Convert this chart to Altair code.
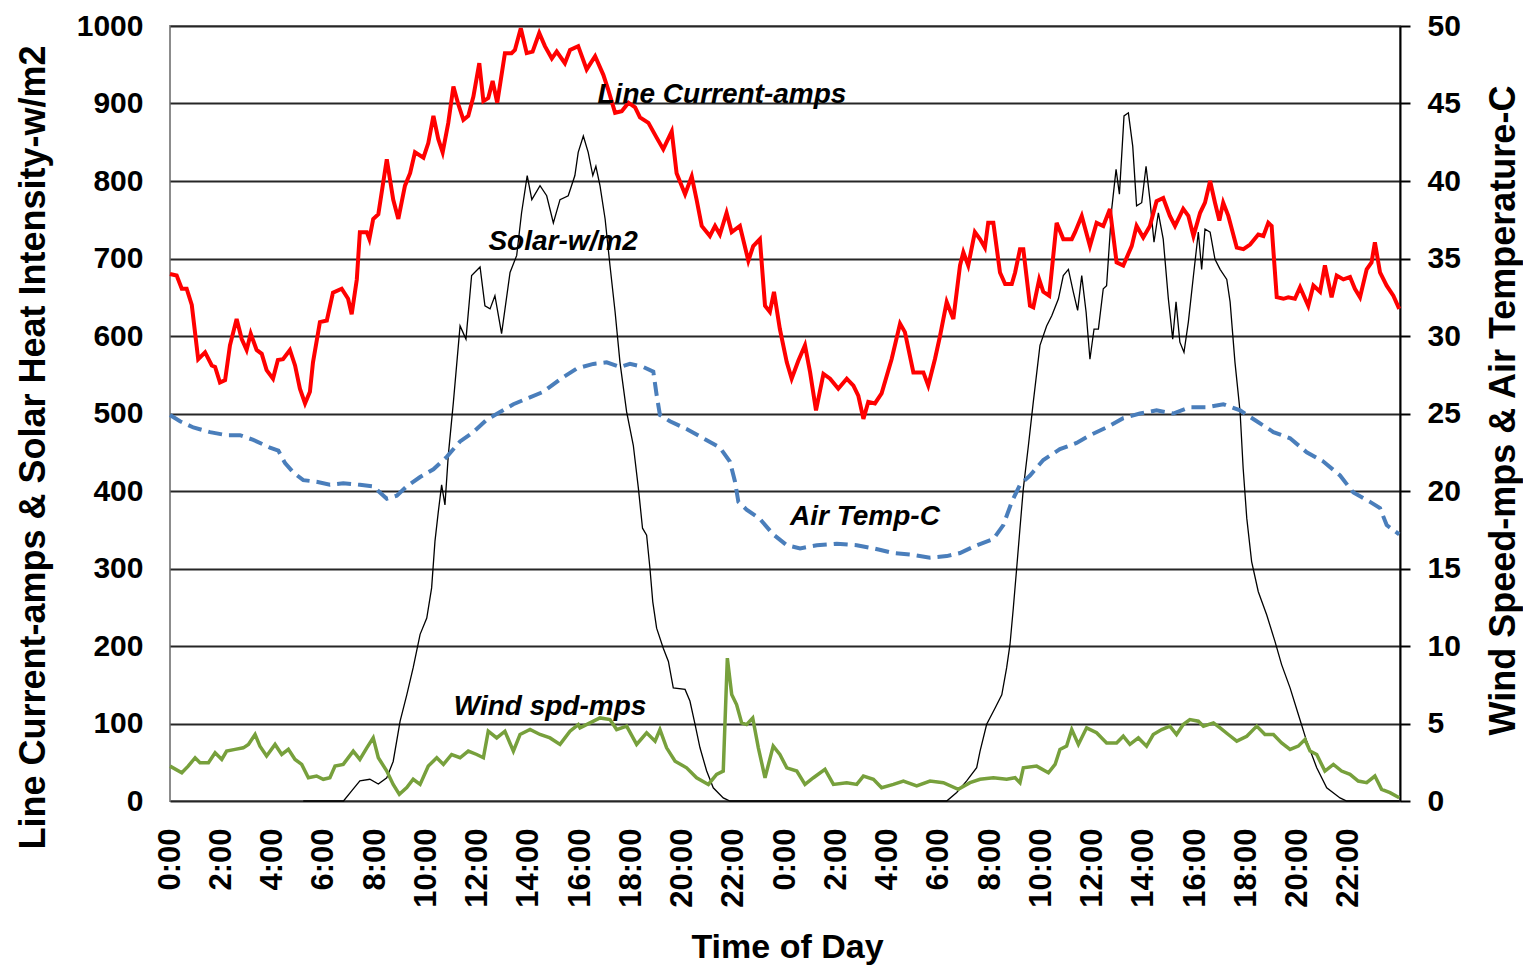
import altair as alt
import pandas as pd

# ---------------- data (hours since start of day 1, value) ----------------
cur_h = [0.0, 0.26, 0.46, 0.65, 0.85, 1.10, 1.37, 1.63, 1.76, 1.95, 2.15, 2.34, 2.60, 2.80, 2.99, 3.15,
         3.38, 3.58, 3.77, 4.02, 4.21, 4.41, 4.68, 4.88, 5.07, 5.27, 5.46, 5.58, 5.85, 6.12, 6.36, 6.70,
         6.95, 7.09, 7.29, 7.41, 7.68, 7.78, 7.93, 8.13, 8.46, 8.71, 8.91, 9.17, 9.37, 9.56, 9.89, 10.08,
         10.28, 10.47, 10.64, 10.86, 11.06, 11.25, 11.45, 11.64, 11.84, 12.07, 12.23, 12.42, 12.59, 12.77,
         13.07, 13.33, 13.46, 13.69, 13.92, 14.15, 14.41, 14.63, 14.90, 15.09, 15.41, 15.61, 15.93, 16.26,
         16.59, 16.91, 17.10, 17.37, 17.63, 17.89, 18.15, 18.34, 18.67, 18.99, 19.25, 19.58, 19.77, 20.10,
         20.36, 20.55, 20.75, 21.07, 21.27, 21.46, 21.72, 21.92, 22.24, 22.57, 22.76, 23.02, 23.22, 23.41,
         23.57, 23.80, 24.07, 24.26, 24.52, 24.78, 24.98, 25.21, 25.50, 25.76, 26.08, 26.41, 26.67, 26.86,
         27.06, 27.25, 27.51, 27.77, 28.16, 28.49, 28.68, 29.01, 29.40, 29.59, 29.85, 30.05, 30.31, 30.57,
         30.83, 30.96, 31.15, 31.41, 31.61, 31.80, 31.93, 32.13, 32.39, 32.59, 32.85, 32.98, 33.17, 33.30,
         33.56, 33.69, 33.92, 34.08, 34.31, 34.60, 34.86, 35.19, 35.32, 35.58, 35.90, 36.16, 36.42, 36.68,
         36.94, 37.20, 37.53, 37.72, 37.98, 38.24, 38.50, 38.76, 39.02, 39.22, 39.54, 39.74, 39.94, 40.20,
         40.39, 40.59, 40.78, 40.95, 41.10, 41.30, 41.63, 41.89, 42.15, 42.47, 42.67, 42.86, 42.99, 43.19,
         43.45, 43.64, 43.90, 44.10, 44.42, 44.62, 44.88, 45.07, 45.33, 45.53, 45.79, 46.05, 46.24, 46.44,
         46.70, 46.89, 47.02, 47.22, 47.48, 47.74, 47.97]
cur_v = [680, 678, 661, 661, 640, 570, 579, 562, 560, 540, 543, 588, 622, 596, 582, 603,
         582, 577, 556, 545, 569, 570, 582, 562, 532, 513, 528, 566, 618, 620, 656, 661,
         648, 628, 673, 734, 734, 725, 751, 757, 828, 776, 751, 794, 810, 837, 830, 849,
         884, 854, 837, 875, 922, 899, 879, 884, 909, 952, 903, 907, 929, 901,
         965, 965, 969, 997, 965, 967, 991, 974, 958, 967, 952, 969, 974, 944,
         961, 937, 918, 888, 890, 901, 895, 882, 875, 856, 841, 864, 810, 783,
         806, 776, 742, 729, 742, 731, 759, 734, 742, 697, 716, 725, 639, 631,
         657, 609, 566, 545, 568, 588, 553, 504, 551, 545, 532, 545, 536, 523,
         493, 515, 513, 526, 570, 616, 605, 553, 553, 536, 570, 600, 644, 622,
         691, 708, 691, 734, 725, 714, 746, 746, 682, 667, 667, 682, 712, 712,
         639, 637, 673, 657, 652, 746, 725, 725, 734, 755, 716, 746, 742, 764,
         695, 691, 716, 742, 727, 742, 774, 778, 755, 742, 764, 755, 729, 759,
         772, 800, 772, 749, 772, 755, 714, 712, 718, 731, 729, 746, 742, 650,
         648, 650, 648, 663, 639, 665, 657, 691, 650, 678, 673, 676, 661, 650,
         686, 695, 721, 682, 665, 652, 635]

sol_h = [5.20, 6.77, 7.09, 7.41, 7.80, 8.13, 8.46, 8.71, 8.98, 9.24, 9.49, 9.76, 10.02, 10.21, 10.34,
         10.47, 10.60, 10.73, 10.86, 11.06, 11.32, 11.55, 11.77, 12.10, 12.29, 12.49, 12.68, 12.94, 13.27,
         13.53, 13.72, 13.94, 14.12, 14.44, 14.70, 14.96, 15.22, 15.54, 15.80, 15.93, 16.13, 16.32, 16.50,
         16.62, 16.78, 16.98, 17.17, 17.37, 17.56, 17.82, 18.08, 18.28, 18.44, 18.60, 18.73, 18.84, 18.99,
         19.25, 19.45, 19.64, 20.10, 20.29, 20.49, 20.68, 20.94, 21.20, 21.59, 21.85, 30.31, 30.70, 31.09,
         31.48, 31.61, 31.87, 32.20, 32.46, 32.65, 32.78, 32.91, 33.04, 33.17, 33.30, 33.50, 33.69, 33.95,
         34.21, 34.41, 34.67, 34.86, 35.06, 35.25, 35.42, 35.58, 35.75, 35.90, 36.06, 36.23, 36.42, 36.55,
         36.75, 36.92, 37.05, 37.23, 37.40, 37.57, 37.72, 37.92, 38.09, 38.24, 38.40, 38.57, 38.76, 38.96,
         39.13, 39.26, 39.41, 39.57, 39.74, 39.94, 40.13, 40.26, 40.39, 40.59, 40.78, 40.98, 41.24, 41.37,
         41.56, 41.76, 41.88, 42.02, 42.21, 42.47, 42.80, 43.12, 43.38, 43.71, 44.03, 44.36, 44.75, 45.14,
         45.66, 45.92, 47.97]
sol_v = [0, 0, 13, 26, 28, 22, 30, 51, 103, 137, 172, 215, 236, 275, 335,
         373, 408, 382, 446, 515, 613, 596, 678, 689, 639, 635, 652, 603, 682,
         704, 759, 807, 776, 794, 781, 746, 776, 781, 807, 837, 858, 837, 807,
         819, 794, 751, 691, 631, 566, 502, 459, 403, 352, 343, 300, 257, 223,
         197, 180, 146, 144, 129, 99, 69, 39, 17, 4, 0, 0, 11, 26,
         43, 64, 99, 120, 137, 172, 202, 249, 300, 352, 403, 459, 515, 588,
         613, 626, 648, 678, 686, 657, 633, 678, 631, 570, 609, 609, 661, 665,
         764, 815, 783, 884, 888, 845, 768, 772, 819, 776, 721, 759, 725, 648,
         596, 644, 592, 579, 618, 678, 734, 686, 738, 734, 699, 686, 673, 644,
         566, 502, 429, 365, 309, 270, 240, 206, 176, 146, 112, 77, 43, 17,
         4, 0, 0]

tmp_h = [0.0, 0.39, 0.91, 1.56, 2.21, 2.73, 3.25, 3.90, 4.23, 4.49, 4.81, 5.20, 5.72, 6.24, 6.76,
         7.41, 7.93, 8.46, 8.85, 9.24, 9.76, 10.28, 10.80, 11.32, 11.84, 12.36, 12.88, 13.40, 14.57,
         15.22, 15.87, 16.52, 17.04, 17.56, 17.95, 18.47, 18.86, 18.99, 19.12, 19.51, 20.16, 20.81, 21.46,
         21.85, 22.05, 22.18, 22.50, 23.02, 23.54, 24.07, 24.59, 25.24, 26.02, 26.80, 27.45, 28.23, 28.88,
         29.66, 30.31, 30.83, 31.48, 32.13, 32.52, 32.85, 33.17, 33.56, 34.08, 34.73, 35.38, 35.90, 36.55,
         37.20, 37.85, 38.50, 39.15, 39.80, 40.46, 41.10, 41.76, 42.41, 43.06, 43.71, 44.36, 45.01, 45.66,
         46.18, 46.83, 47.22, 47.48, 47.97]
tmp_v = [24.9, 24.5, 24.1, 23.8, 23.6, 23.6, 23.3, 22.8, 22.6, 21.8, 21.2, 20.7, 20.6, 20.4, 20.5,
         20.4, 20.3, 19.5, 19.7, 20.3, 20.9, 21.4, 22.2, 23.2, 23.8, 24.6, 25.1, 25.6, 26.4,
         27.2, 27.9, 28.2, 28.3, 28.0, 28.2, 28.0, 27.7, 26.2, 24.9, 24.5, 24.0, 23.4, 22.8,
         21.9, 20.6, 19.3, 18.8, 18.2, 17.2, 16.5, 16.3, 16.5, 16.6, 16.5, 16.3, 16.0, 15.9,
         15.7, 15.8, 16.0, 16.5, 16.9, 17.8, 19.3, 20.4, 21.0, 22.0, 22.7, 23.1, 23.6, 24.1,
         24.7, 25.0, 25.2, 25.0, 25.4, 25.4, 25.6, 25.2, 24.5, 23.8, 23.4, 22.5, 21.9, 21.0,
         19.9, 19.3, 18.9, 17.8, 17.2]

wnd_h = [0.0, 0.46, 0.71, 0.98, 1.17, 1.50, 1.76, 2.02, 2.21, 2.54, 2.86, 3.06, 3.32, 3.51, 3.77,
         4.10, 4.36, 4.62, 4.88, 5.14, 5.40, 5.72, 5.98, 6.24, 6.44, 6.76, 7.15, 7.41, 7.68, 7.93,
         8.13, 8.46, 8.71, 8.95, 9.24, 9.49, 9.76, 10.08, 10.41, 10.67, 10.99, 11.32, 11.64, 11.97,
         12.23, 12.42, 12.75, 13.07, 13.40, 13.66, 14.05, 14.44, 14.83, 15.22, 15.61, 15.93, 16.00,
         16.39, 16.78, 17.17, 17.43, 17.82, 18.21, 18.60, 18.93, 19.12, 19.38, 19.71, 20.16, 20.55,
         21.01, 21.33, 21.59, 21.75, 21.92, 22.11, 22.31, 22.50, 22.74, 22.96, 23.22, 23.54, 23.80,
         24.07, 24.46, 24.78, 25.11, 25.56, 25.89, 26.41, 26.80, 27.06, 27.45, 27.77, 28.23, 28.62,
         29.14, 29.66, 30.18, 30.76, 31.22, 31.61, 32.13, 32.65, 32.98, 33.17, 33.30, 33.82, 34.28,
         34.54, 34.73, 34.99, 35.19, 35.45, 35.77, 36.16, 36.55, 36.94, 37.20, 37.46, 37.79, 38.11,
         38.37, 38.70, 39.02, 39.28, 39.54, 39.80, 40.13, 40.33, 40.72, 40.98, 41.30, 41.63, 42.02,
         42.41, 42.73, 43.06, 43.38, 43.71, 44.03, 44.29, 44.49, 44.75, 45.07, 45.40, 45.72, 46.05,
         46.37, 46.70, 47.02, 47.28, 47.61, 47.97]
wnd_v = [2.25, 1.82, 2.25, 2.79, 2.47, 2.47, 3.11, 2.68, 3.22, 3.33, 3.43, 3.65, 4.29, 3.54, 2.90,
         3.65, 3.00, 3.33, 2.68, 2.36, 1.50, 1.61, 1.40, 1.50, 2.25, 2.36, 3.22, 2.68, 3.43, 4.07,
         2.79, 1.93, 1.07, 0.43, 0.86, 1.40, 1.07, 2.25, 2.79, 2.36, 3.00, 2.79, 3.22, 3.00,
         2.79, 4.50, 4.07, 4.50, 3.22, 4.29, 4.61, 4.29, 4.07, 3.65, 4.50, 4.93, 4.72,
         5.04, 5.36, 5.25, 4.61, 4.83, 3.65, 4.40, 3.86, 4.61, 3.43, 2.57, 2.14, 1.50,
         1.07, 1.72, 1.93, 9.22, 6.87, 6.22, 5.04, 4.93, 5.36, 3.43, 1.50, 3.54, 3.00,
         2.14, 1.93, 1.07, 1.50, 2.04, 1.07, 1.18, 1.07, 1.61, 1.40, 0.86, 1.07, 1.29,
         0.97, 1.29, 1.18, 0.75, 1.18, 1.40, 1.50, 1.40, 1.50, 1.18, 2.14, 2.25, 1.82,
         2.36, 3.33, 3.54, 4.61, 3.65, 4.72, 4.40, 3.75, 3.75, 4.18, 3.65, 4.07, 3.54,
         4.29, 4.61, 4.83, 4.29, 4.93, 5.25, 5.15, 4.83, 5.04, 4.72, 4.29, 3.86, 4.18,
         4.83, 4.29, 4.29, 3.75, 3.33, 3.54, 3.97, 3.22, 3.00, 1.93, 2.36, 1.93, 1.72,
         1.29, 1.18, 1.61, 0.75, 0.54, 0.21]

ann_text = ["Line Current-amps", "Solar-w/m2", "Air Temp-C", "Wind spd-mps"]
ann_h = [21.54, 15.34, 27.12, 14.83]
ann_v = [911, 721, 367, 121]

hour_ticks = list(range(0, 48, 2))
left_ticks = list(range(0, 1001, 100))
right_ticks = list(range(0, 51, 5))

# ---------------- chart ----------------
FONT = "Liberation Sans"

df_cur = pd.DataFrame({"h": cur_h, "v": cur_v})
df_sol = pd.DataFrame({"h": sol_h, "v": sol_v})
df_tmp = pd.DataFrame({"h": tmp_h, "v": tmp_v})
df_wnd = pd.DataFrame({"h": wnd_h, "v": wnd_v})
df_ann = pd.DataFrame({"h": ann_h, "v": ann_v, "t": ann_text})

X = alt.X(
    "h:Q",
    scale=alt.Scale(domain=[0, 48], nice=False, zero=False),
    axis=alt.Axis(
        values=hour_ticks,
        labelExpr="floor(datum.value % 24) + ':00'",
        labelAngle=270,
        labelFont=FONT, labelFontWeight="bold", labelFontSize=31, labelColor="black",
        labelPadding=27, labelOverlap=False, labelFlush=False,
        grid=False, ticks=False, domain=False,
        title="Time of Day", titleFont=FONT, titleFontWeight="bold", titleFontSize=34,
        titleColor="black", titleX=617, titleY=156, titleBaseline="alphabetic",
        titleAlign="center", titleAngle=0,
    ),
)

YL = alt.Y(
    "v:Q",
    scale=alt.Scale(domain=[0, 1000], nice=False),
    axis=alt.Axis(
        values=left_ticks,
        format="d",
        labelFont=FONT, labelFontWeight="bold", labelFontSize=30, labelColor="black",
        labelPadding=27, labelOverlap=False, labelFlush=False,
        grid=True, gridColor="#262626", gridWidth=2,
        ticks=False, domain=False,
        title="Line Current-amps & Solar Heat Intensity-w/m2",
        titleFont=FONT, titleFontWeight="bold", titleFontSize=36, titleColor="black",
        titleAngle=270, titleX=-126, titleY=421, titleBaseline="alphabetic", titleAlign="center",
    ),
)

YR = alt.Y(
    "v:Q",
    scale=alt.Scale(domain=[0, 50], nice=False),
    axis=alt.Axis(
        orient="right",
        values=right_ticks,
        format="d",
        labelFont=FONT, labelFontWeight="bold", labelFontSize=30, labelColor="black",
        labelPadding=17, labelOverlap=False, labelFlush=False,
        grid=False, ticks=True, tickSize=10, tickColor="black", tickWidth=2,
        domain=True, domainColor="black", domainWidth=2,
        title="Wind Speed-mps & Air Temperature-C",
        titleFont=FONT, titleFontWeight="bold", titleFontSize=36, titleColor="black",
        titleAngle=270, titleX=114, titleY=384, titleBaseline="alphabetic", titleAlign="center",
    ),
)

solar = alt.Chart(df_sol).mark_line(color="black", strokeWidth=1.3).encode(x=X, y=YL)
current = alt.Chart(df_cur).mark_line(color="#ff0000", strokeWidth=4).encode(x=X, y=YL)
labels = alt.Chart(df_ann).mark_text(
    font=FONT, fontSize=28, fontWeight="bold", fontStyle="italic", color="black",
    align="center", baseline="middle",
).encode(x=X, y=YL, text="t:N")

temp = alt.Chart(df_tmp).mark_line(color="#4a7ebb", strokeWidth=4, strokeDash=[14, 7]).encode(x=X, y=YR)
wind = alt.Chart(df_wnd).mark_line(color="#77a03c", strokeWidth=3.5).encode(x=X, y=YR)

left = alt.layer(solar, current, labels)
right = alt.layer(temp, wind)

chart = (
    alt.layer(left, right)
    .resolve_scale(y="independent")
    .properties(
        width=1230,
        height=775,
        autosize=alt.AutoSizeParams(type="none"),
        padding={"left": 162, "top": 18, "right": 123, "bottom": 165},
        background="white",
    )
    .configure_view(stroke="#8c8c8c", strokeWidth=2)
)

chart.save("out.html", embed_options={"renderer": "svg", "actions": False})
